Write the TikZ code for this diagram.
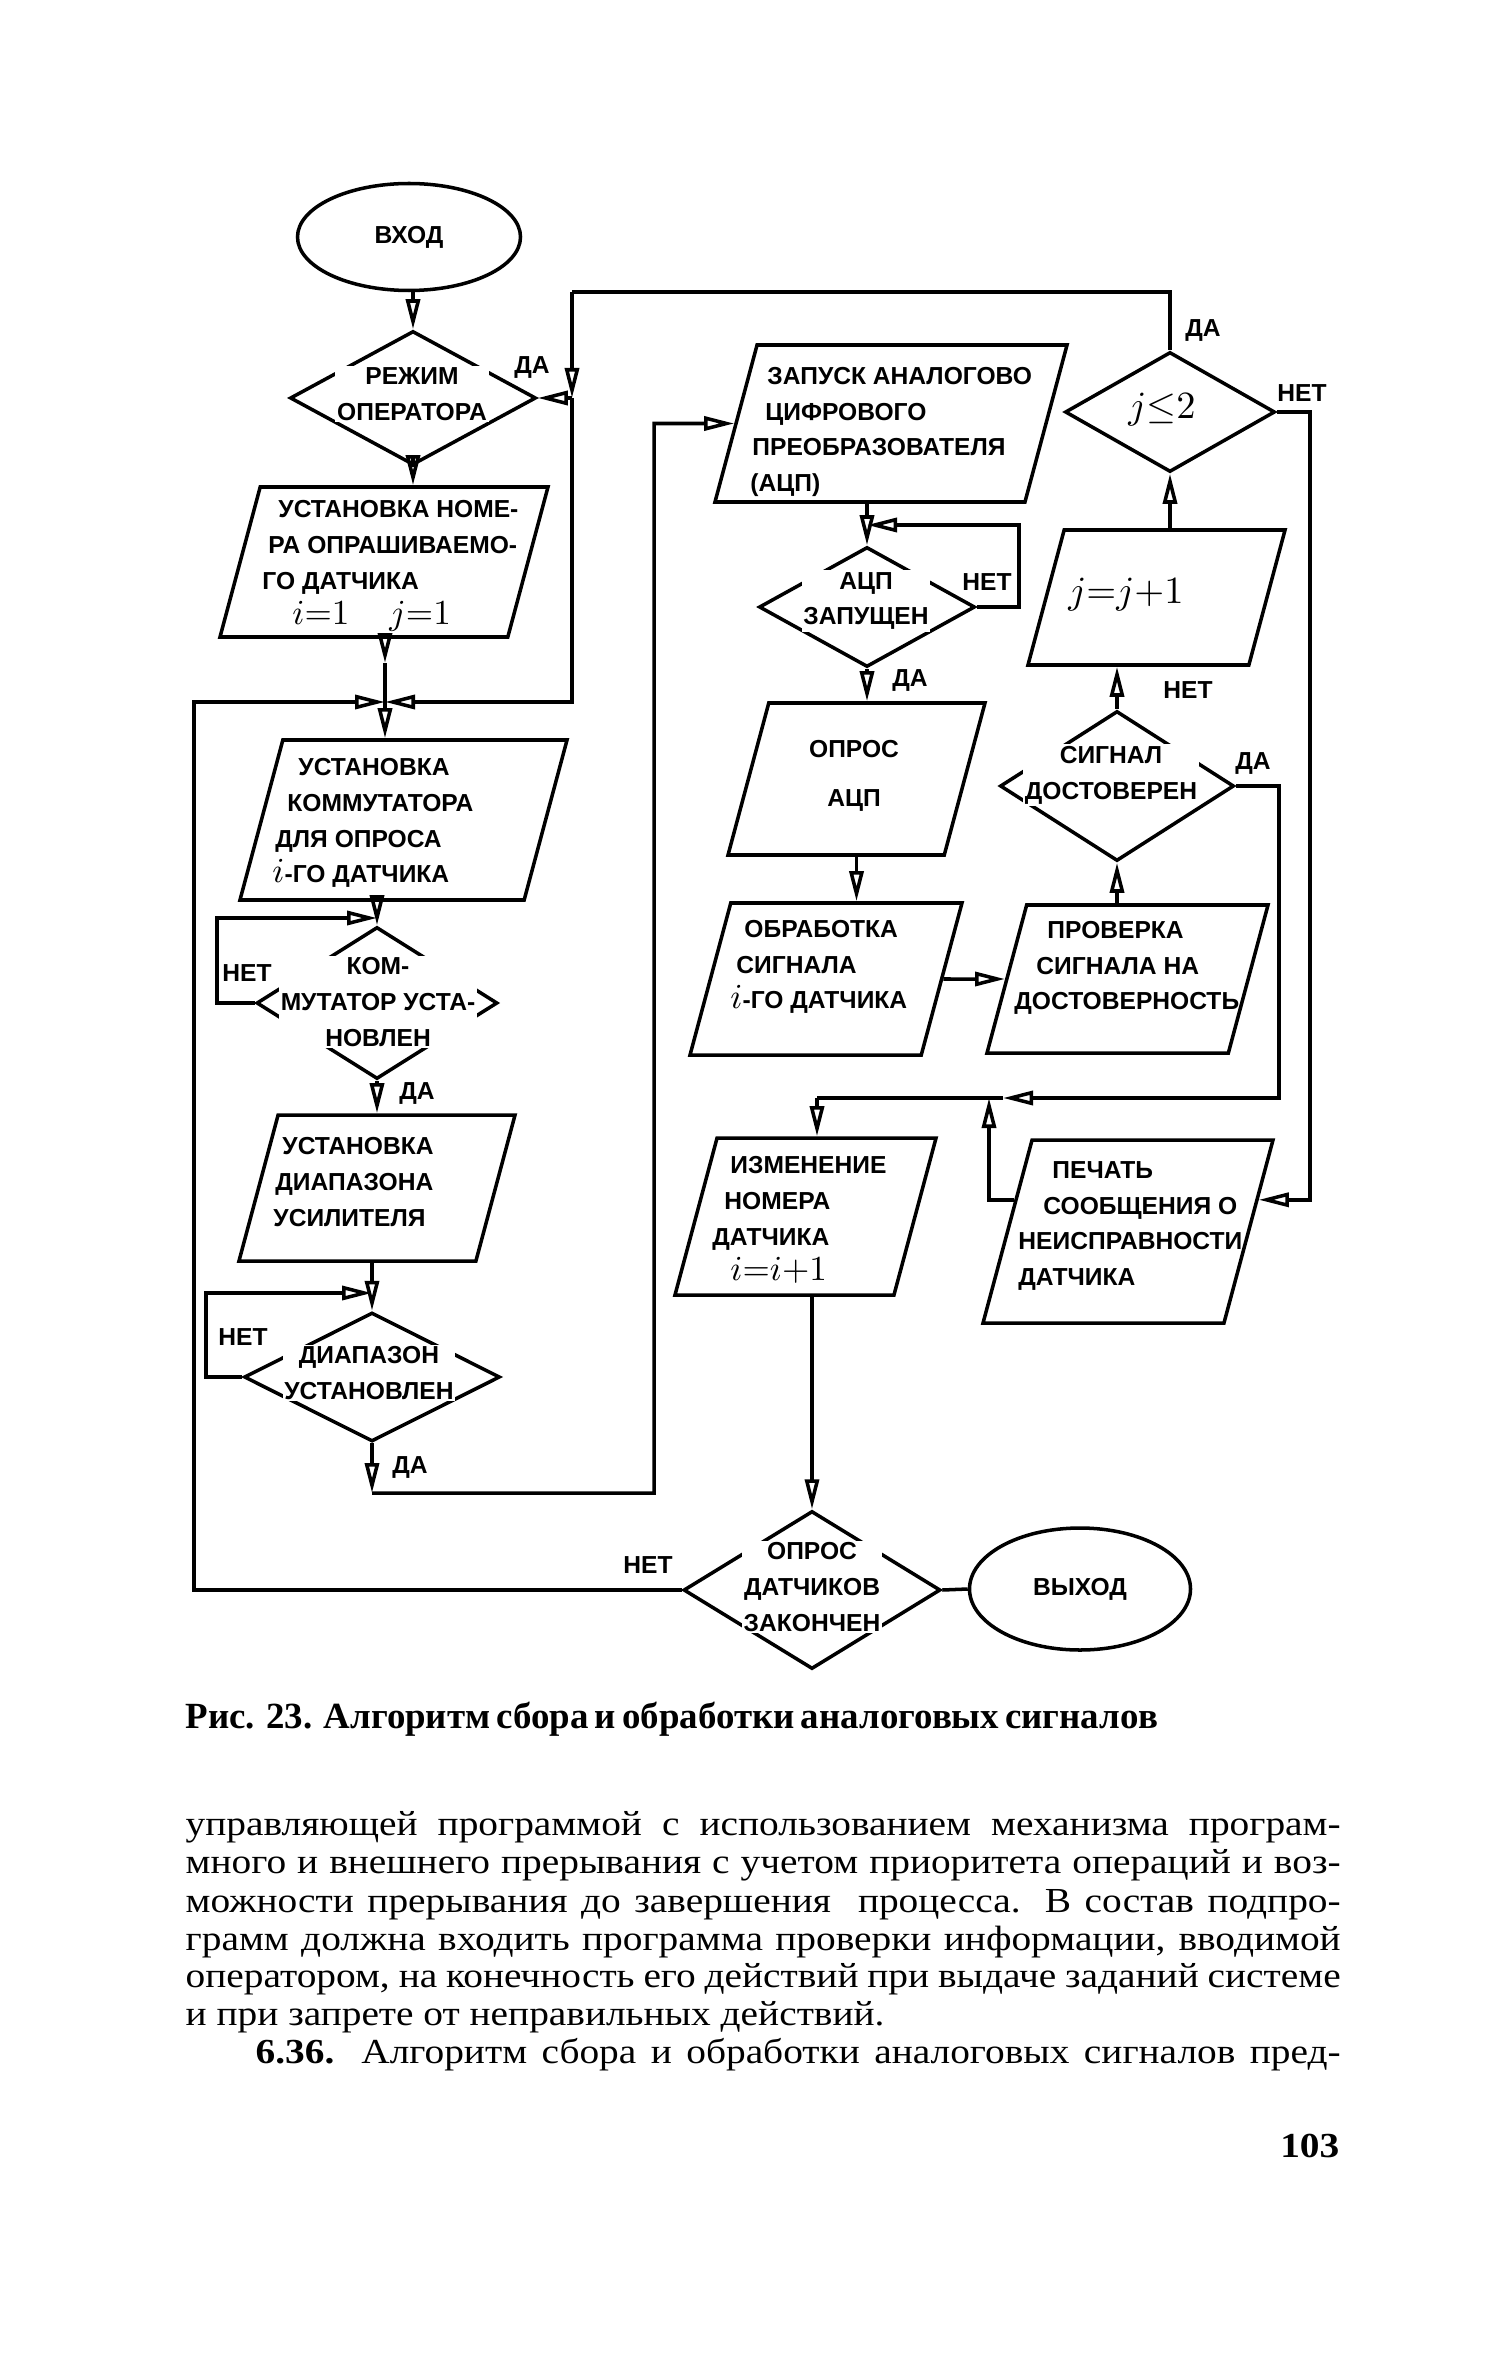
\documentclass[tikz,border=0pt]{standalone}
\usepackage{fontspec}
\setsansfont{Liberation Sans}
\newfontfamily\bodyfont[FakeStretch=1.12]{Liberation Serif}
\newfontfamily\capfont{Liberation Serif}
\usetikzlibrary{shapes.geometric,arrows.meta,calc}
\begin{document}
\begin{tikzpicture}
[x=1mm,y=-1mm,
  terminal/.style={shape=ellipse,draw,line width=1pt,inner sep=0pt,font=\sffamily\bfseries\fontsize{7}{8}\selectfont},%
  decision/.style={shape=diamond,draw,line width=1pt,inner sep=0pt},%
  inout/.style 2 args={shape=trapezium,trapezium left angle=75,trapezium right angle=105,draw,line width=1pt,inner sep=0pt,text width=#1,text height=#2,text depth=0pt},%
  blocktext/.style={font=\sffamily\bfseries\fontsize{7}{10.2}\selectfont,align=left,inner sep=0.5pt},%
  gaptext/.style={blocktext,align=center,fill=white},%
  answer/.style={font=\sffamily\bfseries\fontsize{7}{8}\selectfont,inner sep=0pt},%
  bodytext/.style={font=\bodyfont\fontsize{10}{11}\selectfont,anchor=base west,inner sep=0pt},%
  flowline/.style={line width=1pt},%
  flowarrow/.style={line width=1pt,-{Triangle[open,length=3mm,width=1.4mm]}}]
\useasboundingbox (0,0) rectangle (150.1,236.3);
% blocks
\node (entry) at (40.9,23.7) [terminal,minimum width=22.3mm,minimum height=10.7mm] {ВХОД};
\node (d1) at (41.3,39.8) [decision,minimum width=24.6mm,minimum height=13.4mm] {};
\node (t1) at (41.2,39.4) [gaptext] {РЕЖИМ\\ОПЕРАТОРА};
\node (p1) at (38.4,56.2) [inout={24.76mm}{15mm}] {};
\node (t2) at (26.0,56.6) [blocktext,anchor=west] {\hspace*{1.6mm}УСТАНОВКА НОМЕ-\\\hspace*{0.6mm}РА ОПРАШИВАЕМО-\\ГО ДАТЧИКА\\\hspace*{3mm}{\fontsize{10}{10}\selectfont$i{=}1$\hspace{4mm}$j{=}1$}};
\node (p2) at (40.35,82.0) [inout={24.13mm}{16mm}] {};
\node (t3) at (27.0,82.3) [blocktext,anchor=west] {\hspace*{2.6mm}УСТАНОВКА\\\hspace*{1.5mm}КОММУТАТОРА\\\hspace*{0.3mm}ДЛЯ ОПРОСА\\{\fontsize{10}{10}\selectfont$i$}-ГО ДАТЧИКА};
\node (d2) at (37.7,100.3) [decision,minimum width=24.1mm,minimum height=15.2mm] {};
\node (t4) at (37.8,100.2) [gaptext] {КОМ-\\МУТАТОР УСТА-\\НОВЛЕН};
\node (p3) at (37.7,118.8) [inout={19.78mm}{14.6mm}] {};
\node (t5) at (27.1,118.2) [blocktext,anchor=west] {\hspace*{0.9mm}УСТАНОВКА\\\hspace*{0.2mm}ДИАПАЗОНА\\УСИЛИТЕЛЯ};
\node (d3) at (37.2,137.7) [decision,minimum width=25.6mm,minimum height=12.9mm] {};
\node (t6) at (36.9,137.3) [gaptext] {ДИАПАЗОН\\УСТАНОВЛЕН};
\node (pz) at (89.1,42.35) [inout={26.79mm}{15.7mm}] {};
\node (t7) at (74.8,43.2) [blocktext,anchor=west] {\hspace*{1.7mm}ЗАПУСК АНАЛОГОВО\\\hspace*{1.5mm}ЦИФРОВОГО\\\hspace*{0.2mm}ПРЕОБРАЗОВАТЕЛЯ\\(АЦП)};
\node (da) at (86.7,60.7) [decision,minimum width=21.6mm,minimum height=12mm] {};
\node (t8) at (86.6,60.1) [gaptext] {АЦП\\ЗАПУЩЕН};
\node (op) at (85.65,77.9) [inout={17.55mm}{15.2mm}] {};
\node (t9) at (85.4,77.6) [blocktext,align=center] {ОПРОС\\[1.3mm]АЦП};
\node (ob) at (82.6,97.9) [inout={19.05mm}{15.2mm}] {};
\node (t10) at (72.8,96.7) [blocktext,anchor=west] {\hspace*{1.4mm}ОБРАБОТКА\\\hspace*{0.6mm}СИГНАЛА\\{\fontsize{10}{10}\selectfont$i$}-ГО ДАТЧИКА};
\node (pr) at (112.75,97.9) [inout={20.17mm}{14.8mm}] {};
\node (t11) at (101.2,96.8) [blocktext,anchor=west] {\hspace*{3.3mm}ПРОВЕРКА\\\hspace*{2.2mm}СИГНАЛА НА\\ДОСТОВЕРНОСТЬ};
\node (sg) at (111.7,78.6) [decision,minimum width=23.4mm,minimum height=15mm] {};
\node (t12) at (111.1,77.5) [gaptext] {СИГНАЛ\\ДОСТОВЕРЕН};
\node (jj) at (115.65,59.75) [inout={18.47mm}{13.5mm}] {};
\node (t13) at (112.6,59.5) [inner sep=0pt,font=\fontsize{11}{11}\selectfont] {$j{=}j{+}1$};
\node (jl) at (117.0,41.2) [decision,minimum width=21mm,minimum height=12mm] {};
\node (t14) at (116.2,41.0) [inner sep=0pt,font=\fontsize{11}{11}\selectfont] {$j{\leq}2$};
\node (iz) at (80.55,121.65) [inout={17.69mm}{15.7mm}] {};
\node (t15) at (71.0,122.0) [blocktext,anchor=west] {\hspace*{1.8mm}ИЗМЕНЕНИЕ\\\hspace*{1.2mm}НОМЕРА\\ДАТЧИКА\\\hspace*{1.8mm}{\fontsize{10}{10}\selectfont$i{=}i{+}1$}};
\node (pc) at (112.8,123.15) [inout={19.19mm}{18.3mm}] {};
\node (t16) at (101.6,122.6) [blocktext,anchor=west] {\hspace*{3.4mm}ПЕЧАТЬ\\\hspace*{2.5mm}СООБЩЕНИЯ О\\НЕИСПРАВНОСТИ\\ДАТЧИКА};
\node (df) at (81.2,159.0) [decision,minimum width=25.7mm,minimum height=15.8mm] {};
\node (t17) at (81.2,158.7) [gaptext] {ОПРОС\\ДАТЧИКОВ\\ЗАКОНЧЕН};
\node (exit) at (108.0,158.9) [terminal,minimum width=22.1mm,minimum height=12.2mm] {ВЫХОД};
% answers
\node (a1) at (53.2,36.7) [answer] {ДА};
\node (a2) at (24.7,97.3) [answer] {НЕТ};
\node (a3) at (41.7,109.3) [answer] {ДА};
\node (a4) at (24.3,133.7) [answer] {НЕТ};
\node (a5) at (41.0,146.7) [answer] {ДА};
\node (a6) at (98.7,58.2) [answer] {НЕТ};
\node (a7) at (91.0,68.0) [answer] {ДА};
\node (a8) at (120.3,33.0) [answer] {ДА};
\node (a9) at (130.2,39.3) [answer] {НЕТ};
\node (a10) at (118.8,69.0) [answer] {НЕТ};
\node (a11) at (125.3,76.3) [answer] {ДА};
\node (a12) at (64.8,156.5) [answer] {НЕТ};
% bend points
\coordinate (jn) at (38.5,70.2);
\coordinate (jt) at (38.5,66.3);
\coordinate (cl) at (19.4,70.2);
\coordinate (ju) at (57.2,29.2);
\coordinate (ja) at (57.2,39.8);
\coordinate (jk) at (21.7,91.8);
\coordinate (jr) at (20.6,129.3);
\coordinate (jd) at (37.2,149.3);
\coordinate (jz) at (65.4,42.35);
\coordinate (jq) at (101.9,52.5);
\coordinate (jv) at (131.0,0);
\coordinate (jw) at (127.9,0);
\coordinate (jm) at (100.3,109.8);
\coordinate (jx) at (81.7,109.8);
\coordinate (jy) at (98.9,109.8);
\coordinate (pcr) at ($(pc.top right corner)!0.33!(pc.bottom right corner)$);
\coordinate (pcl) at ($(pc.top left corner)!0.33!(pc.bottom left corner)$);
% connectors
\draw[flowarrow] (entry.south -| d1.north) -- (d1.north);
\draw[flowarrow] (d1.south) -- (d1.south |- p1.north);
\draw[flowarrow] (jn |- p1.south) -- (jt);
\draw[flowline] (jt) -- (jn);
\draw[flowarrow] (jn) -- (jn |- p2.north);
\draw[flowarrow] (d2.north |- p2.south) -- (d2.north);
\draw[flowarrow] (d2.west) -| (jk) -- (d2.north |- jk);
\draw[flowarrow] (d2.south) -- (d2.south |- p3.north);
\draw[flowarrow] (d3.north |- p3.south) -- (d3.north);
\draw[flowarrow] (d3.west) -| (jr) -- (d3.north |- jr);
\draw[flowarrow] (d3.south) -- (jd);
\draw[flowarrow] (jd) -| (jz) -- (pz.west);
\draw[flowarrow] (da.north |- pz.south) -- (da.north);
\draw[flowarrow] (da.east) -| (jq) -- (da.north |- jq);
\draw[flowarrow] (da.south) -- (da.south |- op.north);
\draw[flowarrow] (op.center |- op.south) -- (op.center |- ob.north);
\draw[flowarrow] (ob.east) -- (pr.west);
\draw[flowarrow] (sg.south |- pr.north) -- (sg.south);
\draw[flowarrow] (sg.north) -- (sg.north |- jj.south);
\draw[flowarrow] (jl.south |- jj.north) -- (jl.south);
\draw[flowline] (jl.north) |- (ju);
\draw[flowarrow] (ju) -- (ja);
\draw[flowarrow] (ja) -- (d1.east);
\draw[flowarrow] (ja) |- (jn);
\draw[flowarrow] (df.west) -| (cl) -- (jn);
\draw[flowarrow] (jl.east) -| (jv |- pcr) -- (pcr);
\draw[flowarrow] (sg.east) -| (jw |- jm) -- (jm);
\draw[flowline] (jm) -- (jx);
\draw[flowarrow] (jx) -- (jx |- iz.north);
\draw[flowarrow] (pcl) -| (jy);
\draw[flowarrow] (df.north |- iz.south) -- (df.north);
\draw[flowline] (df.east) -- (exit.west);
% caption and page text
\node (cap) at (18.5,172.8) [anchor=base west,inner sep=0pt,font=\capfont\bfseries\fontsize{10.5}{12}\selectfont] {\makebox[96mm][s]{Рис. 23. Алгоритм сбора и обработки аналоговых сигналов}};
\node (b1) at (18.5,183.5) [bodytext] {\makebox[115.5mm][s]{управляющей программой с использованием механизма програм-}};
\node (b2) at (18.5,187.3) [bodytext] {\makebox[115.5mm][s]{много и внешнего прерывания с учетом приоритета операций и воз-}};
\node (b3) at (18.5,191.2) [bodytext] {\makebox[115.5mm][s]{можности прерывания до завершения \ процесса. В состав подпро-}};
\node (b4) at (18.5,195.0) [bodytext] {\makebox[115.5mm][s]{грамм должна входить программа проверки информации, вводимой}};
\node (b5) at (18.5,198.7) [bodytext] {\makebox[115.5mm][s]{оператором, на конечность его действий при выдаче заданий системе}};
\node (b6) at (18.5,202.5) [bodytext] {и при запрете от неправильных действий.};
\node (b7) at (25.5,206.3) [bodytext] {\makebox[108.5mm][s]{{\bfseries 6.36.} Алгоритм сбора и обработки аналоговых сигналов пред-}};
\node (pg) at (134.0,215.7) [anchor=base east,inner sep=0pt,font=\bodyfont\bfseries\fontsize{10}{12}\selectfont] {103};
\end{tikzpicture}
\end{document}
